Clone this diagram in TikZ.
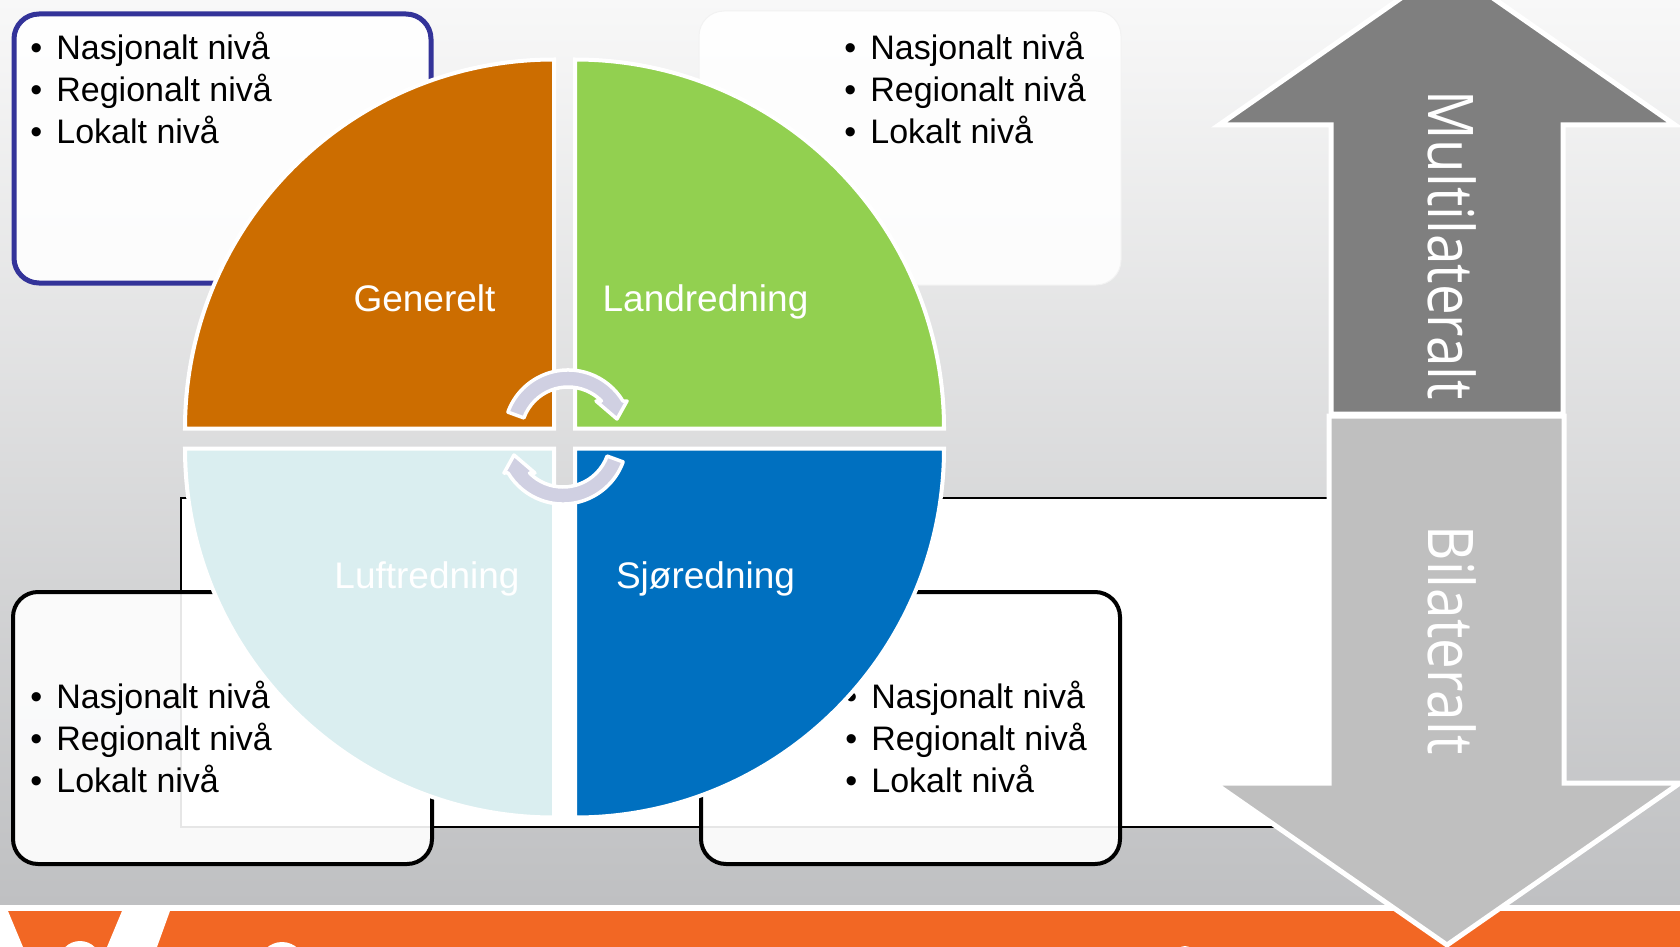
\documentclass[tikz,border=0pt]{standalone}
\usepackage{fontspec}
\usepackage{graphicx}
\setmainfont{Liberation Sans}
\newfontfamily\arrowfont{Open Sans}
\usetikzlibrary{calc}
\definecolor{qorange}{HTML}{CC6D00}
\definecolor{qgreen}{HTML}{92D050}
\definecolor{qlight}{HTML}{DAEEF0}
\definecolor{qblue}{HTML}{0070C0}
\definecolor{boxblue}{HTML}{333399}
\definecolor{arrdark}{HTML}{7F7F7F}
\definecolor{arrlight}{HTML}{BFBFBF}
\definecolor{cyc}{HTML}{D0D0E2}
\definecolor{barorange}{HTML}{F26724}
\definecolor{bgtop}{HTML}{F8F8F8}
\definecolor{bgmid}{HTML}{E6E6E7}
\definecolor{bgbot}{HTML}{BFC0C2}
\newcommand{\myitem}[1]{\hbox to 13pt{\textbullet\hfil}#1}
\tikzset{
  quad/.style={draw=white, line width=2pt},
  infobox/.style={rounded corners=12.5pt, fill=white, fill opacity=0.9},
  bullettext/.style={anchor=base west, inner sep=0pt, font=\fontsize{17}{20}\selectfont, text=black},
  qlabel/.style={anchor=base, inner sep=0pt, font=\fontsize{18.5}{22}\selectfont, text=white},
  bigarrow/.style={draw=white, line width=2.5pt, line join=miter},
  arrowlabel/.style={anchor=base, rotate=-90, inner sep=0pt, text=white, font=\arrowfont\fontsize{31.5}{36}\selectfont},
  cycarrow/.style={fill=cyc, draw=white, line width=1.75pt, line join=round},
}
\begin{document}
\begin{tikzpicture}[x=0.5pt, y=-0.5pt]
\useasboundingbox (0,0) rectangle (1680,947);
\clip (0,0) rectangle (1680,947);
% background
\fill[white] (0,0) rectangle (1680,947);
\shade[top color=bgtop, middle color=bgmid, bottom color=bgbot] (0,0) rectangle (1680,904);
\fill[barorange] (0,911) rectangle (1680,947);
% logo fragments
\fill[white] (0,911) -- (8,911) -- (23,947) -- (0,947) -- cycle;
\fill[white] (122,911) -- (170,911) -- (157,947) -- (107,947) -- cycle;
\fill[white] (80,962) circle[radius=21];
\fill[white] (282,965) circle[radius=23];
\fill[white] (1185,956) circle[radius=10];
% white panel
\draw[line width=1pt, fill=white] (181,498) rectangle (1330,827);
% info boxes
\draw[infobox, draw=boxblue, line width=2.5pt] (14,14) rectangle (431,283);
\draw[infobox, draw=black!5, line width=0.5pt] (699,11) rectangle (1121,285);
\draw[infobox, draw=black, line width=2pt] (13,592) rectangle (432,864);
\draw[infobox, draw=black, line width=2pt] (701,592) rectangle (1120,864);
% box texts
\node[bullettext] (tl1) at (30,60) {\myitem{Nasjonalt nivå}};
\node[bullettext] (tl2) at (30,102) {\myitem{Regionalt nivå}};
\node[bullettext] (tl3) at (30,143) {\myitem{Lokalt nivå}};
\node[bullettext] (tr1) at (844,60) {\myitem{Nasjonalt nivå}};
\node[bullettext] (tr2) at (844,102) {\myitem{Regionalt nivå}};
\node[bullettext] (tr3) at (844,143) {\myitem{Lokalt nivå}};
\node[bullettext] (bl1) at (30,708) {\myitem{Nasjonalt nivå}};
\node[bullettext] (bl2) at (30,750) {\myitem{Regionalt nivå}};
\node[bullettext] (bl3) at (30,792) {\myitem{Lokalt nivå}};
\node[bullettext] (br1) at (845,708) {\myitem{Nasjonalt nivå}};
\node[bullettext] (br2) at (845,750) {\myitem{Regionalt nivå}};
\node[bullettext] (br3) at (845,792) {\myitem{Lokalt nivå}};
% quadrants
\filldraw[quad, fill=qorange] (554,428.5) -- ++(180:369) arc[start angle=180, end angle=270, radius=369] -- cycle;
\filldraw[quad, fill=qgreen] (575,428.5) -- ++(270:369) arc[start angle=270, end angle=360, radius=369] -- cycle;
\filldraw[quad, fill=qblue] (575,448.5) -- ++(0:369) arc[start angle=0, end angle=90, radius=369] -- cycle;
\filldraw[quad, fill=qlight] (554,448.5) -- ++(90:369) arc[start angle=90, end angle=180, radius=369] -- cycle;
% cycle arrows
\path[cycarrow] (523.8,417.9) -- (507.9,412.1) arc[start angle=200, end angle=329, radius=64]
  -- (627,401) -- (617,419) -- (596,401) -- (601.5,401) arc[start angle=315.4, end angle=200, radius=47] -- cycle;
\begin{scope}[rotate around={180:(565.5,437)}]
\path[cycarrow] (523.8,417.9) -- (507.9,412.1) arc[start angle=200, end angle=329, radius=64]
  -- (627,401) -- (617,419) -- (596,401) -- (601.5,401) arc[start angle=315.4, end angle=200, radius=47] -- cycle;
\end{scope}
% quadrant labels
\node[qlabel] (gen) at (424.5,311) {Generelt};
\node[qlabel] (land) at (705.5,311) {Landredning};
\node[qlabel] (luft) at (427,588) {Luftredning};
\node[qlabel] (sjo) at (705.5,588) {Sjøredning};
% big arrows
\filldraw[bigarrow, fill=arrlight] (1329,416) -- (1564,416) -- (1564,783) -- (1680,783) -- (1447,945) -- (1214,783) -- (1329,783) -- cycle;
\filldraw[bigarrow, fill=arrdark] (1331,414) -- (1331,125) -- (1219,125) -- (1447,-34) -- (1675,125) -- (1563,125) -- (1563,414) -- cycle;
\node[arrowlabel] (multi) at (1428,245) {\scalebox{0.87}[1]{Multilateralt}};
\node[arrowlabel] (bi) at (1428,640) {\scalebox{0.87}[1]{Bilateralt}};
\end{tikzpicture}
\end{document}
